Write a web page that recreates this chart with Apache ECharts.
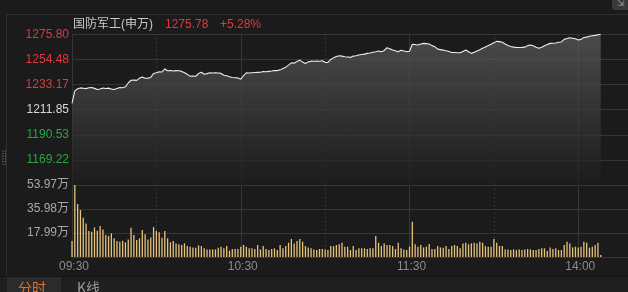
<!DOCTYPE html>
<html><head><meta charset="utf-8">
<script src="https://cdn.jsdelivr.net/npm/echarts@6/dist/echarts.min.js"></script>
<style>html,body{margin:0;padding:0;background:#1b1b1b;}#c{width:628px;height:292px;}</style>
</head><body><div id="c"></div>
<script>
// ---- data ----
const titleName = '国防军工(申万)';
const lastPrice = '1275.78';
const changePct = '+5.28%';
const preClose = 1211.85;
const priceMin = 1147.89;
const priceMax = 1275.80;
const priceTickLabels = ['1275.80','1254.48','1233.17','1211.85','1190.53','1169.22'];
const volumeTickLabels = ['17.99万','35.98万','53.97万'];
const volumeMax = 53.97;
const timeTickLabels = ['09:30','10:30','11:30','14:00'];
const solidGridTimes = ['10:30','11:30','14:00'];
const dottedGridTimes = ['10:00','11:00','13:30'];

const priceValues = [
1217.2,1227.8,1229.6,1230.3,1230.0,1229.7,1230.4,1230.6,1229.9,1228.9,
1229.4,1230.2,1229.8,1230.1,1229.3,1228.9,1229.8,1230.6,1230.4,1231.2,
1234.5,1236.8,1236.9,1236.7,1238.6,1239.6,1238.5,1238.6,1239.1,1242.6,
1243.1,1243.9,1243.8,1246.4,1244.8,1245.1,1244.7,1245.0,1244.8,1244.3,
1243.1,1241.8,1240.2,1240.3,1240.2,1242.5,1243.6,1241.9,1242.4,1243.1,
1242.9,1243.2,1243.0,1242.6,1241.1,1240.6,1239.8,1239.1,1238.9,1238.8,
1237.7,1240.8,1243.1,1243.0,1243.2,1243.4,1243.5,1243.6,1244.2,1244.0,
1244.3,1244.6,1245.1,1245.0,1245.6,1246.8,1247.9,1249.6,1251.6,1251.3,
1252.8,1253.9,1252.2,1251.1,1252.4,1253.0,1252.9,1253.1,1252.9,1253.3,
1252.0,1251.9,1254.5,1255.8,1256.9,1257.6,1257.3,1256.7,1256.5,1256.2,
1257.3,1257.6,1258.2,1258.7,1259.0,1259.6,1259.9,1260.5,1261.0,1261.6,
1261.0,1262.1,1264.4,1263.6,1262.4,1261.8,1261.0,1262.2,1261.6,1261.0,
1261.4,
1267.3,1267.1,1266.7,1267.6,1268.1,1267.9,1267.5,1266.2,1265.3,
1263.2,1262.8,1262.4,1261.8,1261.2,1260.4,1260.3,1260.1,1260.2,1261.3,
1262.4,1261.0,1259.6,1260.5,1261.6,1262.7,1263.9,1265.1,1266.2,1267.3,
1268.6,1269.8,1269.6,1269.0,1267.6,1266.3,1265.5,1264.9,1264.7,1264.6,
1264.7,1264.9,1266.2,1266.7,1266.1,1264.8,1263.9,1264.8,1266.0,1267.2,
1268.1,1268.2,1268.4,1269.0,1269.3,1271.5,1272.2,1272.9,1272.5,1272.0,
1270.9,1271.5,1273.2,1273.4,1274.1,1274.5,1274.9,1275.4,1275.78
];

const volumeValues = [
12.0,53.9,39.7,35.2,29.5,25.2,19.5,19.0,22.2,19.7,
23.2,20.7,16.5,15.7,17.7,14.0,12.0,11.5,12.2,11.0,
13.2,22.0,16.5,12.7,14.0,20.2,17.0,13.2,14.7,22.5,
19.7,18.5,14.5,19.5,14.0,11.0,12.0,10.2,9.5,9.0,
10.2,8.2,7.7,7.2,7.0,8.7,8.2,6.5,5.7,5.7,
5.7,5.7,7.0,7.7,6.5,8.2,4.7,6.0,6.0,6.0,
7.7,9.0,7.7,6.5,6.5,6.0,9.0,5.7,8.2,6.0,
5.2,6.0,6.5,5.2,9.0,6.5,8.2,10.7,13.5,10.2,
12.0,13.5,
11.5,8.2,7.2,6.5,5.7,5.2,6.0,6.0,5.7,5.2,
8.2,8.2,9.0,9.5,10.7,7.7,7.7,5.2,8.2,5.2,
6.5,6.5,6.5,6.0,6.5,6.5,15.7,10.7,8.2,10.2,
9.0,9.0,8.2,6.0,10.7,6.5,5.7,5.2,7.7,26.5,
9.5,7.7,9.0,7.2,7.7,9.7,6.0,6.0,8.2,7.2,
7.0,8.2,6.0,8.2,9.0,8.2,6.5,10.2,10.7,9.5,
10.2,10.7,10.2,11.5,10.7,8.2,7.7,7.7,13.5,10.7,
8.2,8.2,5.7,5.7,5.2,5.7,5.2,5.7,5.2,5.7,
6.0,5.7,5.2,5.2,6.0,6.5,6.5,4.5,7.2,6.0,
6.5,5.2,5.2,9.0,11.5,10.2,7.2,7.7,7.2,7.7,
11.5,10.7,7.0,7.7,9.0,10.7,1.5
];

// trading-minute categories 09:30..11:30, 13:01..15:00
const times = [];
function pad(n){return (n<10?'0':'')+n;}
for (let m = 9*60+30; m <= 11*60+30; m++) times.push(pad(Math.floor(m/60))+':'+pad(m%60));
for (let m = 13*60+1; m <= 15*60; m++) times.push(pad(Math.floor(m/60))+':'+pad(m%60));

// ---- chart ----
const FONT = 'Liberation Sans, Noto Sans CJK SC, sans-serif';
const RED = '#e0383e', GREEN = '#27a844', WHITE = '#d8d8d8';
const GRIDC = '#363636';
const priceInterval = (priceMax - priceMin) / 6;

const chart = echarts.init(document.getElementById('c'), null, {renderer:'canvas'});
const gridLeft = 72, plotWidth = 675;

function xAxisCfg(gridIndex, kind){
  const solid = kind === 'solid';
  return {
    type:'category', gridIndex, data: times, boundaryGap:false,
    position: solid ? 'bottom' : 'top',
    axisLine:{show: solid && gridIndex===1, lineStyle:{color:GRIDC}},
    axisTick:{show:false},
    axisLabel:{show: solid && gridIndex===1, color:'#8c8c8c', fontSize:12, fontFamily:FONT, margin:4,
      padding:[0,0,0,4],
      interval:(i,v)=>timeTickLabels.indexOf(v)>=0, formatter:v=>v},
    splitLine:{show:true,
      interval:(i,v)=> (solid ? solidGridTimes : dottedGridTimes).indexOf(v)>=0,
      lineStyle:{color: solid ? GRIDC : '#4a4a4a', width:1, type: solid ? 'solid' : [1,3]}}
  };
}

chart.setOption({
  backgroundColor:'#1b1b1b',
  animation:false,
  grid:[
    {left:gridLeft, top:34.3, width:plotWidth, height:150.7, containLabel:false, outerBoundsMode:'none'},
    {left:gridLeft, top:185, width:plotWidth, height:72, containLabel:false, outerBoundsMode:'none'}
  ],
  xAxis:[xAxisCfg(0,'solid'), xAxisCfg(0,'dotted'), xAxisCfg(1,'solid'), xAxisCfg(1,'dotted')],
  yAxis:[
    {type:'value', gridIndex:0, min:priceMin, max:priceMax, interval:priceInterval,
     axisLine:{show:true, lineStyle:{color:GRIDC}}, axisTick:{show:false},
     splitLine:{lineStyle:{color:GRIDC}},
     axisLabel:{fontSize:12, fontFamily:FONT, margin:3, padding:[7,0,0,0],
       formatter:(v)=>{const k=Math.round((priceMax-v)/priceInterval); return priceTickLabels[k]||'';},
       color:(v)=>{const k=Math.round((priceMax-v)/priceInterval); const val=parseFloat(priceTickLabels[k]);
         if (Math.abs(val-preClose)<0.01) return WHITE; return val>preClose?RED:GREEN;}}},
    {type:'value', gridIndex:1, min:0, max:volumeMax, interval:volumeMax/3,
     axisLine:{show:true, lineStyle:{color:GRIDC}}, axisTick:{show:false},
     splitLine:{lineStyle:{color:GRIDC}},
     axisLabel:{fontSize:12, fontFamily:FONT, margin:3, padding:[7,0,0,0], color:'#a8a8a8',
       formatter:(v)=>{const k=Math.round(v/(volumeMax/3)); return k>0?volumeTickLabels[k-1]:'';}}}
  ],
  series:[
    {type:'line', xAxisIndex:0, yAxisIndex:0, data:priceValues, symbol:'none',
     lineStyle:{color:'#ececec', width:1.1},
     areaStyle:{origin:'start', color:new echarts.graphic.LinearGradient(0,0,0,1,[
       {offset:0, color:'#5e5e5e'},{offset:1, color:'#1c1c1c'}])}},
    {type:'bar', xAxisIndex:2, yAxisIndex:1, data:volumeValues, barWidth:1.3, clip:false,
     itemStyle:{color:'#e6c37a'}}
  ],
  graphic:[
    {type:'text', x:73, y:25, style:{text:titleName, fill:'#c8c8c8', font:'12px '+FONT, verticalAlign:'middle'}},
    {type:'text', x:165, y:25, style:{text:lastPrice, fill:RED, font:'12px '+FONT, verticalAlign:'middle'}},
    {type:'text', x:220, y:25, style:{text:changePct, fill:RED, font:'12px '+FONT, verticalAlign:'middle'}},
    {type:'line', shape:{x1:7, y1:14.5, x2:628, y2:14.5}, style:{stroke:'#2e2e2e', lineWidth:1}},
    {type:'line', shape:{x1:6.5, y1:14, x2:6.5, y2:277}, style:{stroke:'#2e2e2e', lineWidth:1}},
    {type:'rect', shape:{x:612, y:-4, width:22, height:14, r:3}, style:{fill:'#3a3a3a'}},
    {type:'text', x:617, y:4, style:{text:'⇲', fill:'#9a9a9a', font:'9px '+FONT, verticalAlign:'middle'}},
    {type:'group', children:[0,1,2,3,4,5].map(i=>({type:'circle', shape:{cx:3, cy:151+i*2.6, r:0.6}, style:{fill:'#8a8a8a'}}))
      .concat([0,1,2,3,4,5].map(i=>({type:'circle', shape:{cx:5.5, cy:151+i*2.6, r:0.6}, style:{fill:'#8a8a8a'}})))},
    {type:'rect', z:100, shape:{x:0, y:276, width:628, height:16}, style:{fill:'#1f1f1f'}},
    {type:'line', z:101, shape:{x1:0, y1:276.5, x2:628, y2:276.5}, style:{stroke:'#141414', lineWidth:1}},
    {type:'rect', z:101, shape:{x:7, y:277, width:54, height:15}, style:{fill:'#2b2b2b'}},
    {type:'text', z:102, x:18, y:281, style:{text:'分时', fill:'#e0702a', font:'14px Noto Sans CJK SC'}},
    {type:'text', z:102, x:77, y:281, style:{text:'K线', fill:'#9a9a9a', font:'14px Noto Sans CJK SC'}}
  ]
});
</script></body></html>
